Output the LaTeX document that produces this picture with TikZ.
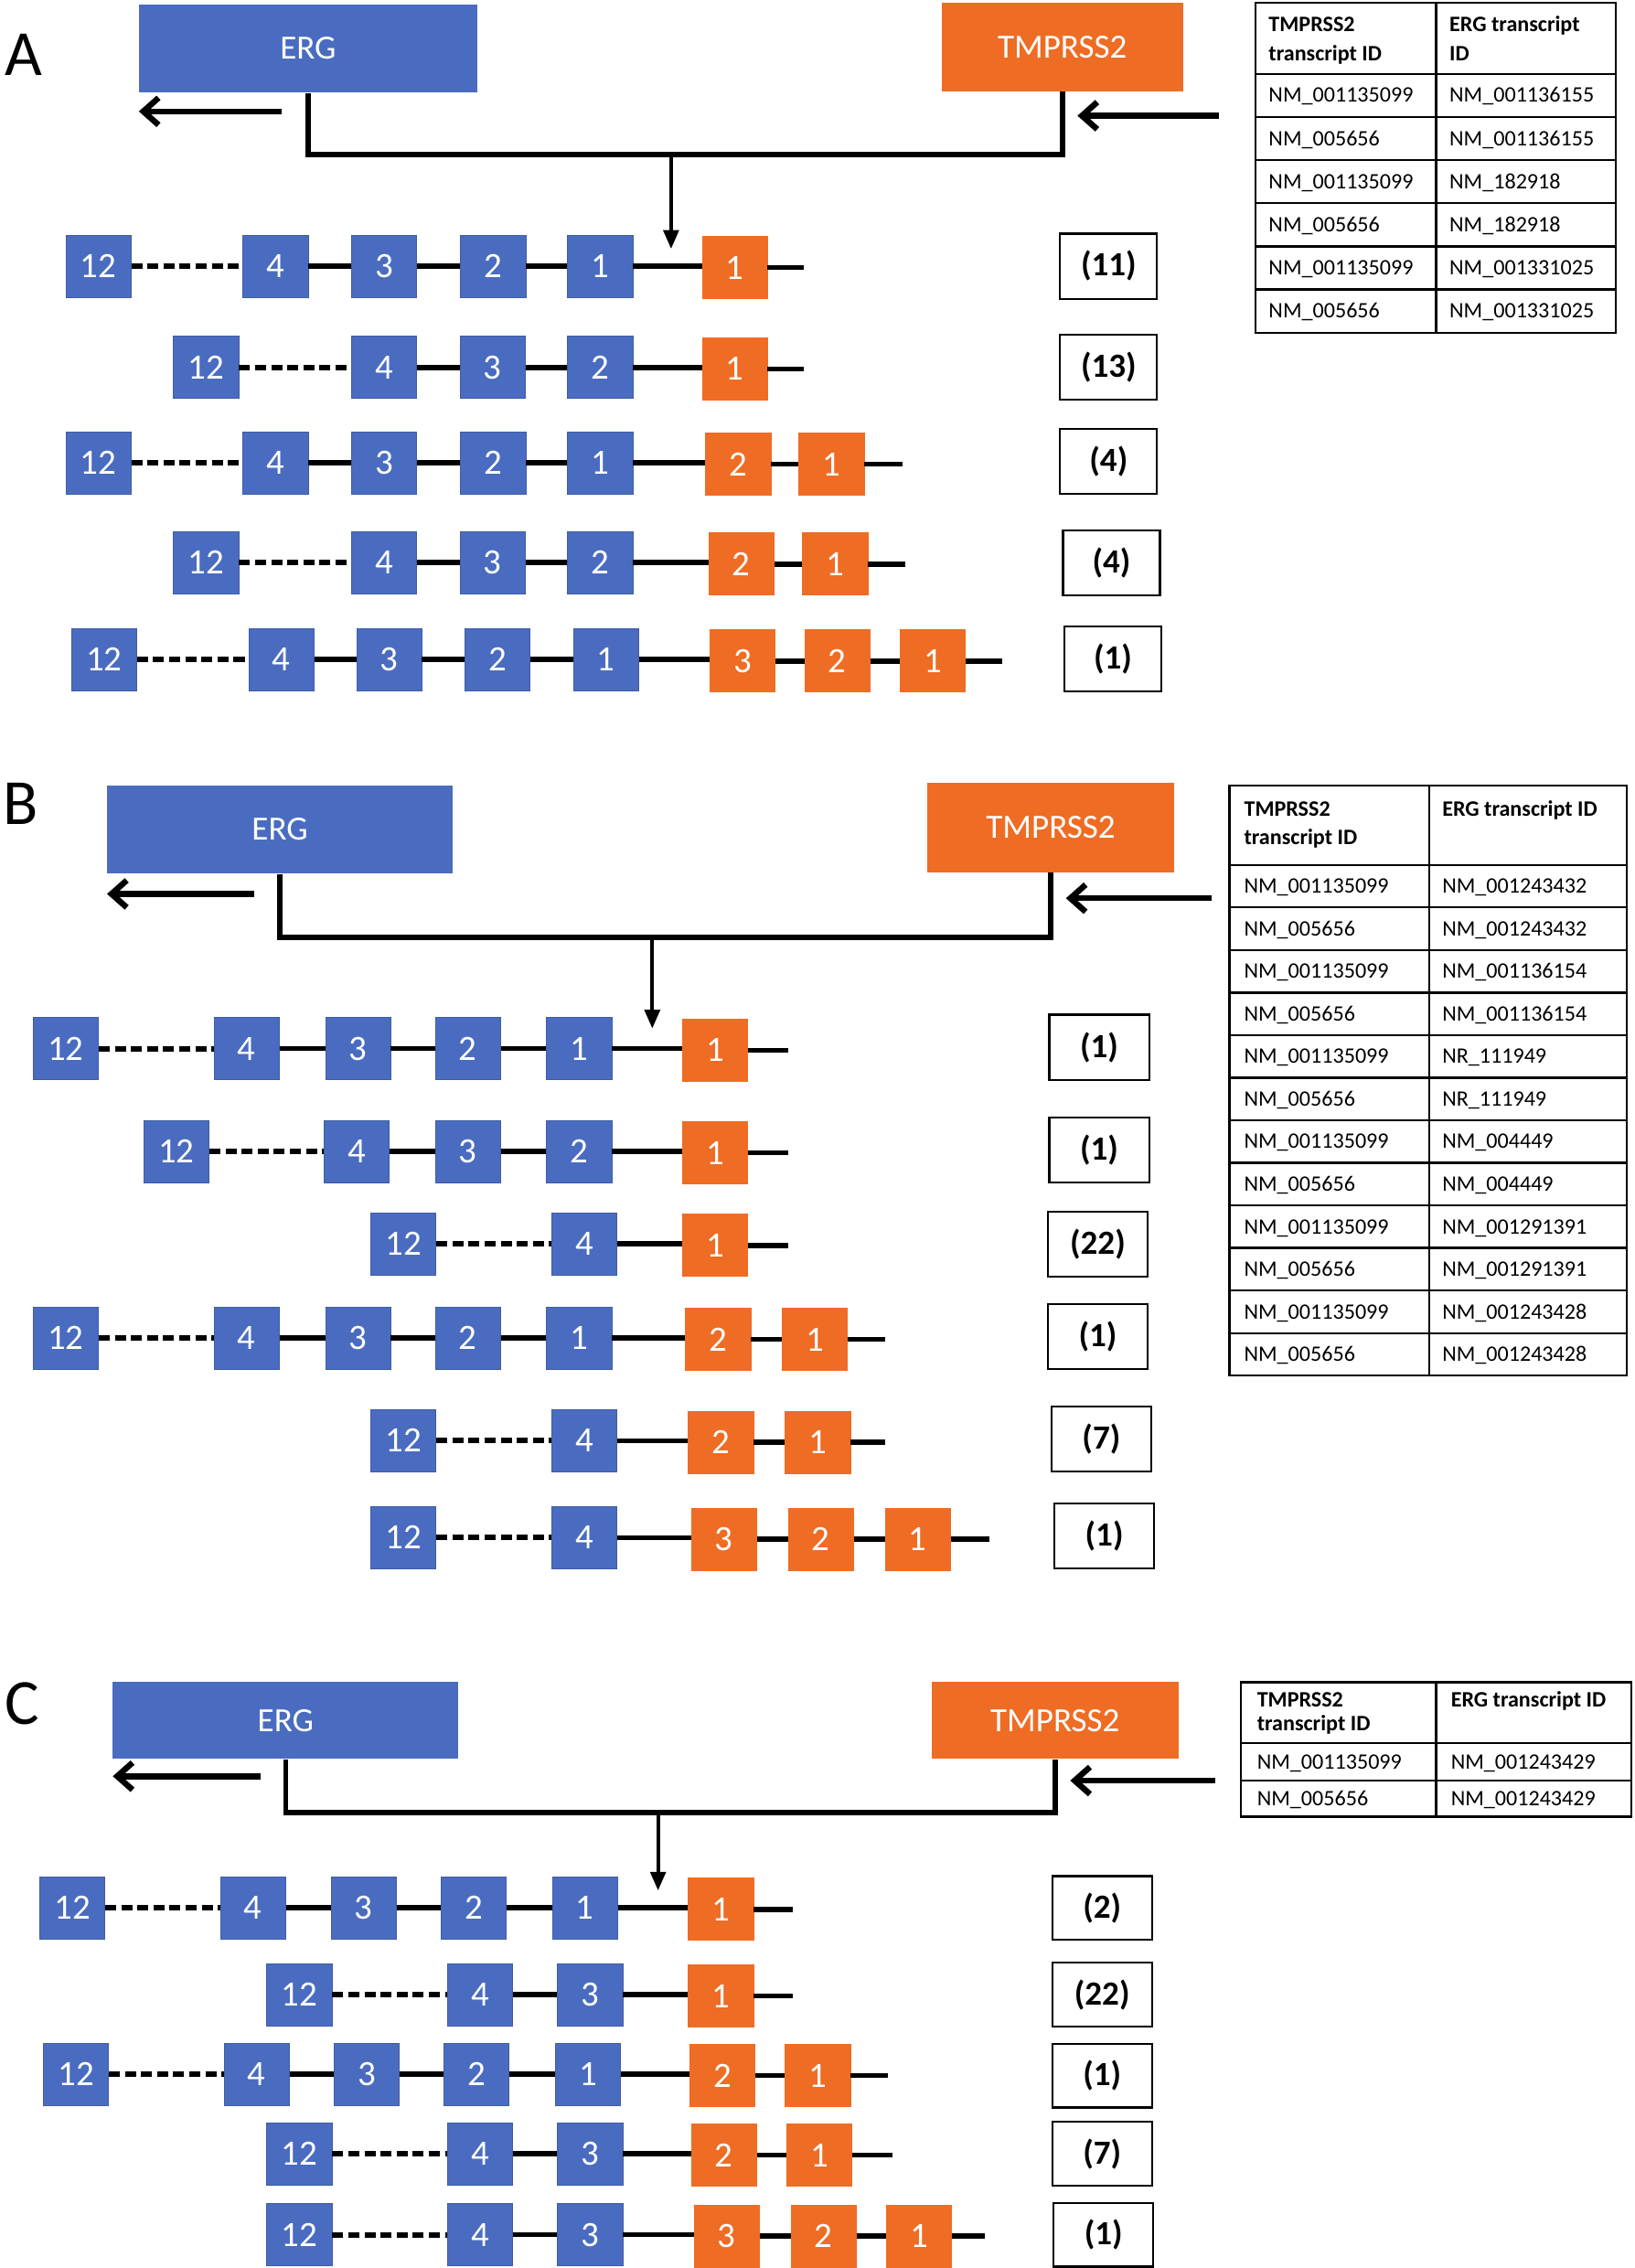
\documentclass[tikz,border=0pt]{standalone}
\usepackage{fontspec}
\setmainfont{Carlito}
\usetikzlibrary{arrows.meta}
\definecolor{ergblue}{HTML}{4A6CC0}
\definecolor{tmorange}{HTML}{EF6C24}
\begin{document}
\begin{tikzpicture}[x=0.3mm,y=-0.3mm,
  eb/.style={fill=ergblue,draw=ergblue!85!black,line width=0.4pt,minimum width=13.5mm,minimum height=12.9mm,inner sep=0pt,text=white,font=\fontsize{21}{21}\selectfont},
  ob/.style={eb,fill=tmorange,draw=tmorange},
  cnt/.style={draw,line width=1.2pt,minimum width=20.7mm,minimum height=13.5mm,inner sep=0pt,font=\bfseries\fontsize{20}{20}\selectfont},
  gene/.style={inner sep=0pt,text=white,font=\fontsize{20}{20}\selectfont},
  el/.style={line width=3pt},
  dl/.style={line width=3.2pt,dash pattern=on 6.5pt off 3pt},
  conn/.style={line width=3pt},
  larr/.style={line width=3.5pt,-{Straight Barb[length=9pt,width=16pt]}},
  darr/.style={line width=2pt,-{Triangle[length=11pt,width=9pt]}},
  tb/.style={line width=1.2pt},
  tt/.style={anchor=base west,inner sep=0pt,font=\fontsize{13}{16}\selectfont},
  th/.style={tt,font=\bfseries\fontsize{13}{16}\selectfont},
  lett/.style={anchor=base west,inner sep=0pt,font=\fontsize{38}{38}\selectfont}
]
\useasboundingbox[fill=white] (0,0) rectangle (1130,1568);

% ================= PANEL A =================
\node[lett] (lA) at (3,52) {A};
\node[gene,fill=ergblue,minimum width=70.2mm,minimum height=18.3mm] (ergA) at (213,33.5) {ERG};
\node[gene,fill=tmorange,minimum width=50.1mm,minimum height=18.3mm] (tmA) at (734.5,32.5) {TMPRSS2};
\coordinate (jA) at (464,107);
\coordinate (tipA) at (464,172);
\draw[conn] (ergA.south) |- (jA) -| (tmA.south);
\draw[darr] (jA) -- (tipA);
\coordinate (laAs) at (195,77); \coordinate (laAe) at (96,77);
\coordinate (raAs) at (843,80); \coordinate (raAe) at (745,80);
\draw[larr] (laAs) -- (laAe);
\draw[larr] (raAs) -- (raAe);

% row 1
\node[eb] (a1x12) at (68,184) {12};
\node[eb] (a1x4) at (190.5,184) {4};
\node[eb] (a1x3) at (265.5,184) {3};
\node[eb] (a1x2) at (341,184) {2};
\node[eb] (a1x1) at (415,184) {1};
\node[ob] (a1o1) at (508,185) {1};
\coordinate (a1e) at (556,185);
\draw[dl] (a1x12) -- (a1x4);
\draw[el] (a1x4) -- (a1x3) -- (a1x2) -- (a1x1);
\draw[el] (a1x1.east) -- (a1o1.west |- a1x1.east); \draw[el] (a1o1) -- (a1e);
\node[cnt,minimum width=20.1mm] (a1c) at (766.5,184) {(11)};
% row 2
\node[eb] (a2x12) at (142.5,254) {12};
\node[eb] (a2x4) at (265.5,254) {4};
\node[eb] (a2x3) at (340.5,254) {3};
\node[eb] (a2x2) at (415,254) {2};
\node[ob] (a2o1) at (508,255) {1};
\coordinate (a2e) at (556,255);
\draw[dl] (a2x12) -- (a2x4);
\draw[el] (a2x4) -- (a2x3) -- (a2x2);
\draw[el] (a2x2.east) -- (a2o1.west |- a2x2.east); \draw[el] (a2o1) -- (a2e);
\node[cnt,minimum width=20.1mm] (a2c) at (766.5,254) {(13)};
% row 3
\node[eb] (a3x12) at (68,320) {12};
\node[eb] (a3x4) at (190.5,320) {4};
\node[eb] (a3x3) at (265.5,320) {3};
\node[eb] (a3x2) at (341,320) {2};
\node[eb] (a3x1) at (415,320) {1};
\node[ob] (a3o2) at (510.5,321) {2};
\node[ob] (a3o1) at (575,321) {1};
\coordinate (a3e) at (624,321);
\draw[dl] (a3x12) -- (a3x4);
\draw[el] (a3x4) -- (a3x3) -- (a3x2) -- (a3x1);
\draw[el] (a3x1.east) -- (a3o2.west |- a3x1.east); \draw[el] (a3o2) -- (a3o1) -- (a3e);
\node[cnt,minimum width=20.1mm] (a3c) at (766.5,319) {(4)};
% row 4
\node[eb] (a4x12) at (142.5,389) {12};
\node[eb] (a4x4) at (265.5,389) {4};
\node[eb] (a4x3) at (340.5,389) {3};
\node[eb] (a4x2) at (415,389) {2};
\node[ob] (a4o2) at (512.5,390) {2};
\node[ob] (a4o1) at (577.5,390) {1};
\coordinate (a4e) at (626,390);
\draw[dl] (a4x12) -- (a4x4);
\draw[el] (a4x4) -- (a4x3) -- (a4x2);
\draw[el] (a4x2.east) -- (a4o2.west |- a4x2.east); \draw[el] (a4o2) -- (a4o1) -- (a4e);
\node[cnt,minimum width=20.1mm] (a4c) at (768.5,389) {(4)};
% row 5
\node[eb] (a5x12) at (72,456) {12};
\node[eb] (a5x4) at (194.5,456) {4};
\node[eb] (a5x3) at (269,456) {3};
\node[eb] (a5x2) at (344,456) {2};
\node[eb] (a5x1) at (419,456) {1};
\node[ob] (a5o3) at (513.5,457) {3};
\node[ob] (a5o2) at (579,457) {2};
\node[ob] (a5o1) at (645,457) {1};
\coordinate (a5e) at (693,457);
\draw[dl] (a5x12) -- (a5x4);
\draw[el] (a5x4) -- (a5x3) -- (a5x2) -- (a5x1);
\draw[el] (a5x1.east) -- (a5o3.west |- a5x1.east); \draw[el] (a5o3) -- (a5o2) -- (a5o1) -- (a5e);
\node[cnt,minimum width=20.1mm] (a5c) at (769.5,455.5) {(1)};

% table A
\draw[tb] (868,2) rectangle (1117,230);
\draw[tb] (993,2) -- (993,230);
\foreach \i in {0,...,5} \draw[tb] (868,{51+29.833*\i}) -- (1117,{51+29.833*\i});
\node[th] (tAh1) at (877,22) {TMPRSS2};
\node[th] (tAh2) at (877,42) {transcript ID};
\node[th] (tAh3) at (1002,22) {ERG transcript};
\node[th] (tAh4) at (1002,42) {ID};
\foreach \i/\l/\r in {0/NM\_001135099/NM\_001136155,1/NM\_005656/NM\_001136155,2/NM\_001135099/NM\_182918,3/NM\_005656/NM\_182918,4/NM\_001135099/NM\_001331025,5/NM\_005656/NM\_001331025}{
  \node[tt] (tAl\i) at (877,{51+29.833*\i+19.8}) {\l};
  \node[tt] (tAr\i) at (1002,{51+29.833*\i+19.8}) {\r};
}

% ================= PANEL B =================
\node[lett] (lB) at (2,570) {B};
\node[gene,fill=ergblue,minimum width=71.7mm,minimum height=18.3mm] (ergB) at (193.5,573.5) {ERG};
\node[gene,fill=tmorange,minimum width=51.3mm,minimum height=18.6mm] (tmB) at (726.5,572) {TMPRSS2};
\coordinate (jB) at (451,648);
\coordinate (tipB) at (451,711);
\draw[conn] (ergB.south) |- (jB) -| (tmB.south);
\draw[darr] (jB) -- (tipB);
\coordinate (laBs) at (176,618); \coordinate (laBe) at (74,618);
\coordinate (raBs) at (838,621); \coordinate (raBe) at (737,621);
\draw[larr] (laBs) -- (laBe);
\draw[larr] (raBs) -- (raBe);

% row 1
\node[eb] (b1x12) at (45.5,725) {12};
\node[eb] (b1x4) at (170.5,725) {4};
\node[eb] (b1x3) at (247.5,725) {3};
\node[eb] (b1x2) at (323.5,725) {2};
\node[eb] (b1x1) at (400.5,725) {1};
\node[ob] (b1o1) at (494.5,726) {1};
\coordinate (b1e) at (545,726);
\draw[dl] (b1x12) -- (b1x4);
\draw[el] (b1x4) -- (b1x3) -- (b1x2) -- (b1x1);
\draw[el] (b1x1.east) -- (b1o1.west |- b1x1.east); \draw[el] (b1o1) -- (b1e);
\node[cnt] (b1c) at (760,724) {(1)};
% row 2
\node[eb] (b2x12) at (122,796) {12};
\node[eb] (b2x4) at (246.5,796) {4};
\node[eb] (b2x3) at (323.5,796) {3};
\node[eb] (b2x2) at (400.5,796) {2};
\node[ob] (b2o1) at (494.5,797) {1};
\coordinate (b2e) at (545,797);
\draw[dl] (b2x12) -- (b2x4);
\draw[el] (b2x4) -- (b2x3) -- (b2x2);
\draw[el] (b2x2.east) -- (b2o1.west |- b2x2.east); \draw[el] (b2o1) -- (b2e);
\node[cnt] (b2c) at (760,795) {(1)};
% row 3
\node[eb] (b3x12) at (279,860) {12};
\node[eb] (b3x4) at (404,860) {4};
\node[ob] (b3o1) at (494.5,861) {1};
\coordinate (b3e) at (545,861);
\draw[dl] (b3x12) -- (b3x4);
\draw[el] (b3x4.east) -- (b3o1.west |- b3x4.east); \draw[el] (b3o1) -- (b3e);
\node[cnt] (b3c) at (759,860) {(22)};
% row 4
\node[eb] (b4x12) at (45.5,925) {12};
\node[eb] (b4x4) at (170.5,925) {4};
\node[eb] (b4x3) at (247.5,925) {3};
\node[eb] (b4x2) at (323.5,925) {2};
\node[eb] (b4x1) at (400.5,925) {1};
\node[ob] (b4o2) at (496.5,926) {2};
\node[ob] (b4o1) at (563.5,926) {1};
\coordinate (b4e) at (612,926);
\draw[dl] (b4x12) -- (b4x4);
\draw[el] (b4x4) -- (b4x3) -- (b4x2) -- (b4x1);
\draw[el] (b4x1.east) -- (b4o2.west |- b4x1.east); \draw[el] (b4o2) -- (b4o1) -- (b4e);
\node[cnt] (b4c) at (759,924) {(1)};
% row 5
\node[eb] (b5x12) at (279,996) {12};
\node[eb] (b5x4) at (404,996) {4};
\node[ob] (b5o2) at (498.5,997) {2};
\node[ob] (b5o1) at (565.5,997) {1};
\coordinate (b5e) at (612,997);
\draw[dl] (b5x12) -- (b5x4);
\draw[el] (b5x4.east) -- (b5o2.west |- b5x4.east); \draw[el] (b5o2) -- (b5o1) -- (b5e);
\node[cnt] (b5c) at (761.5,995) {(7)};
% row 6
\node[eb] (b6x12) at (279,1063) {12};
\node[eb] (b6x4) at (404,1063) {4};
\node[ob] (b6o3) at (500.5,1064) {3};
\node[ob] (b6o2) at (567.5,1064) {2};
\node[ob] (b6o1) at (634.5,1064) {1};
\coordinate (b6e) at (684,1064);
\draw[dl] (b6x12) -- (b6x4);
\draw[el] (b6x4.east) -- (b6o3.west |- b6x4.east); \draw[el] (b6o3) -- (b6o2) -- (b6o1) -- (b6e);
\node[cnt] (b6c) at (763.5,1062) {(1)};

% table B
\draw[tb] (850,543) rectangle (1125,951);
\draw[tb] (988,543) -- (988,951);
\foreach \i in {0,...,11} \draw[tb] (850,{598+29.417*\i}) -- (1125,{598+29.417*\i});
\node[th] (tBh1) at (860,564) {TMPRSS2};
\node[th] (tBh2) at (860,584) {transcript ID};
\node[th] (tBh3) at (997,564) {ERG transcript ID};
\foreach \i/\l/\r in {0/NM\_001135099/NM\_001243432,1/NM\_005656/NM\_001243432,2/NM\_001135099/NM\_001136154,3/NM\_005656/NM\_001136154,4/NM\_001135099/NR\_111949,5/NM\_005656/NR\_111949,6/NM\_001135099/NM\_004449,7/NM\_005656/NM\_004449,8/NM\_001135099/NM\_001291391,9/NM\_005656/NM\_001291391,10/NM\_001135099/NM\_001243428,11/NM\_005656/NM\_001243428}{
  \node[tt] (tBl\i) at (860,{598+29.417*\i+19.6}) {\l};
  \node[tt] (tBr\i) at (997,{598+29.417*\i+19.6}) {\r};
}

% ================= PANEL C =================
\node[lett] (lC) at (3,1192) {C};
\node[gene,fill=ergblue,minimum width=71.7mm,minimum height=15.9mm] (ergC) at (197.5,1189.5) {ERG};
\node[gene,fill=tmorange,minimum width=51.3mm,minimum height=15.9mm] (tmC) at (729.5,1189.5) {TMPRSS2};
\coordinate (jC) at (455,1253);
\coordinate (tipC) at (455,1307);
\draw[conn] (ergC.south) |- (jC) -| (tmC.south);
\draw[darr] (jC) -- (tipC);
\coordinate (laCs) at (180,1228); \coordinate (laCe) at (78,1228);
\coordinate (raCs) at (840,1231); \coordinate (raCe) at (740,1231);
\draw[larr] (laCs) -- (laCe);
\draw[larr] (raCs) -- (raCe);

% row 1
\node[eb] (c1x12) at (50,1319) {12};
\node[eb] (c1x4) at (175,1319) {4};
\node[eb] (c1x3) at (251.5,1319) {3};
\node[eb] (c1x2) at (327.5,1319) {2};
\node[eb] (c1x1) at (404.5,1319) {1};
\node[ob] (c1o1) at (498.5,1320) {1};
\coordinate (c1e) at (548,1320);
\draw[dl] (c1x12) -- (c1x4);
\draw[el] (c1x4) -- (c1x3) -- (c1x2) -- (c1x1);
\draw[el] (c1x1.east) -- (c1o1.west |- c1x1.east); \draw[el] (c1o1) -- (c1e);
\node[cnt,minimum height=13.2mm] (c1c) at (762,1319) {(2)};
% row 2
\node[eb] (c2x12) at (207,1379) {12};
\node[eb] (c2x4) at (332,1379) {4};
\node[eb] (c2x3) at (408,1379) {3};
\node[ob] (c2o1) at (498.5,1380) {1};
\coordinate (c2e) at (548,1380);
\draw[dl] (c2x12) -- (c2x4);
\draw[el] (c2x4) -- (c2x3);
\draw[el] (c2x3.east) -- (c2o1.west |- c2x3.east); \draw[el] (c2o1) -- (c2e);
\node[cnt,minimum height=13.2mm] (c2c) at (762,1379) {(22)};
% row 3
\node[eb] (c3x12) at (52.5,1434) {12};
\node[eb] (c3x4) at (177.5,1434) {4};
\node[eb] (c3x3) at (253.5,1434) {3};
\node[eb] (c3x2) at (329.5,1434) {2};
\node[eb] (c3x1) at (406.5,1434) {1};
\node[ob] (c3o2) at (499.5,1435) {2};
\node[ob] (c3o1) at (565.5,1435) {1};
\coordinate (c3e) at (614,1435);
\draw[dl] (c3x12) -- (c3x4);
\draw[el] (c3x4) -- (c3x3) -- (c3x2) -- (c3x1);
\draw[el] (c3x1.east) -- (c3o2.west |- c3x1.east); \draw[el] (c3o2) -- (c3o1) -- (c3e);
\node[cnt,minimum height=13.2mm] (c3c) at (762,1435) {(1)};
% row 4
\node[eb] (c4x12) at (207,1489) {12};
\node[eb] (c4x4) at (332,1489) {4};
\node[eb] (c4x3) at (408,1489) {3};
\node[ob] (c4o2) at (500.5,1490) {2};
\node[ob] (c4o1) at (566.5,1490) {1};
\coordinate (c4e) at (617,1490);
\draw[dl] (c4x12) -- (c4x4);
\draw[el] (c4x4) -- (c4x3);
\draw[el] (c4x3.east) -- (c4o2.west |- c4x3.east); \draw[el] (c4o2) -- (c4o1) -- (c4e);
\node[cnt,minimum height=13.2mm] (c4c) at (762,1489) {(7)};
% row 5
\node[eb] (c5x12) at (207,1545) {12};
\node[eb] (c5x4) at (332,1545) {4};
\node[eb] (c5x3) at (408,1545) {3};
\node[ob] (c5o3) at (502.5,1546) {3};
\node[ob] (c5o2) at (569.5,1546) {2};
\node[ob] (c5o1) at (635.5,1546) {1};
\coordinate (c5e) at (681,1546);
\draw[dl] (c5x12) -- (c5x4);
\draw[el] (c5x4) -- (c5x3);
\draw[el] (c5x3.east) -- (c5o3.west |- c5x3.east); \draw[el] (c5o3) -- (c5o2) -- (c5o1) -- (c5e);
\node[cnt,minimum height=13.2mm] (c5c) at (763,1545) {(1)};

% table C
\draw[tb] (858,1163) rectangle (1128,1256);
\draw[tb] (993,1163) -- (993,1256);
\draw[tb] (858,1205) -- (1128,1205);
\draw[tb] (858,1231) -- (1128,1231);
\node[th] (tCh1) at (869,1180) {TMPRSS2};
\node[th] (tCh2) at (869,1196.5) {transcript ID};
\node[th] (tCh3) at (1003,1180) {ERG transcript ID};
\node[tt] (tCl0) at (869,1223) {NM\_001135099};
\node[tt] (tCr0) at (1003,1223) {NM\_001243429};
\node[tt] (tCl1) at (869,1248.5) {NM\_005656};
\node[tt] (tCr1) at (1003,1248.5) {NM\_001243429};
\end{tikzpicture}
\end{document}
